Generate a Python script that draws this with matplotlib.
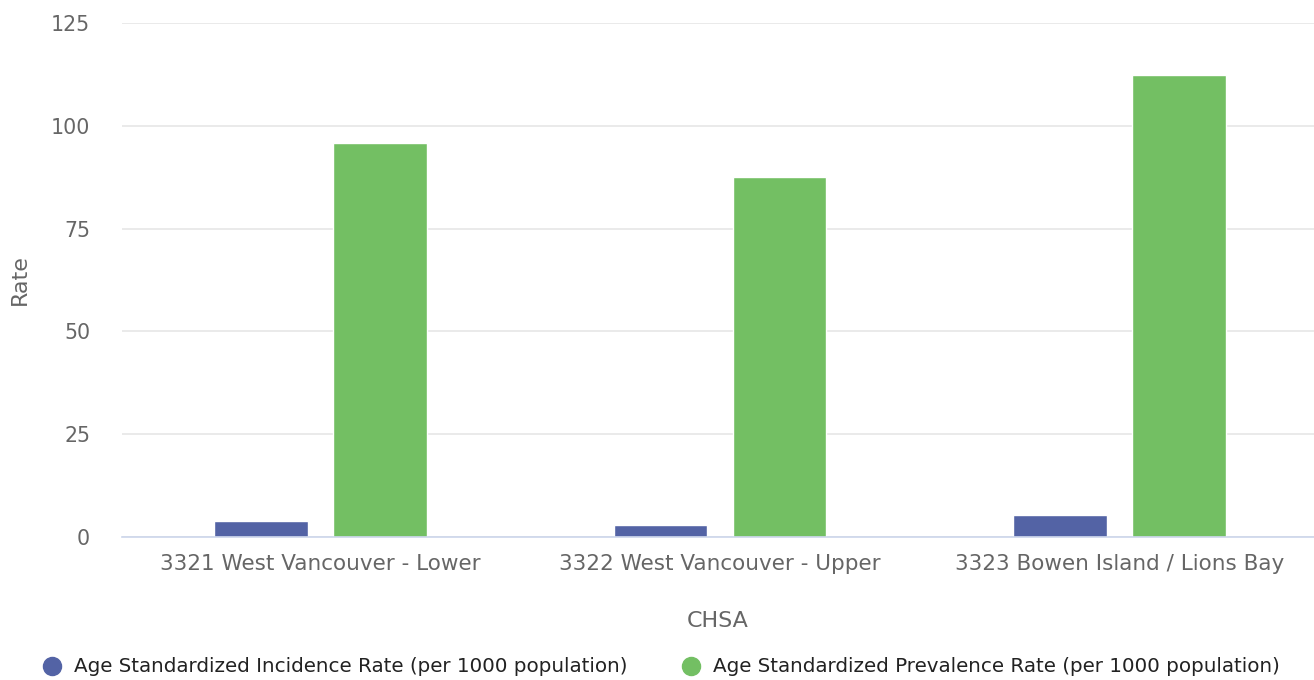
import numpy as np
import matplotlib.pyplot as plt
from matplotlib.lines import Line2D

# values
chsa = ["3321 West Vancouver - Lower", "3322 West Vancouver - Upper", "3323 Bowen Island / Lions Bay"]
incidence = [3.9, 3.0, 5.3]
prevalence = [95.8, 87.5, 112.4]
series_names = ["Age Standardized Incidence Rate (per 1000 population)",
                "Age Standardized Prevalence Rate (per 1000 population)"]
yticks = [0, 25, 50, 75, 100, 125]

blue = "#5363a5"
green = "#73bf63"

plt.rcParams['font.family'] = ['DejaVu Sans']

fig = plt.figure(figsize=(13.14, 6.8), dpi=100)
ax = fig.add_axes([122 / 1314, (680 - 537) / 680, 1 - 122 / 1314, (537 - 23) / 680])

x = np.arange(len(chsa))
w = 0.235
ax.bar(x - 0.149, incidence, w, color=blue, edgecolor="white", linewidth=1, zorder=3)
ax.bar(x + 0.149, prevalence, w, color=green, edgecolor="white", linewidth=1, zorder=3)

ax.set_xlim(-0.497, 2.487)
ax.set_ylim(0, 125)
ax.set_yticks(yticks)
ax.set_xticks(x)
ax.set_xticklabels(chsa, fontsize=15.5)
ax.tick_params(axis="both", length=0, colors="#666666")
ax.tick_params(axis="y", labelsize=14.8, pad=23)
ax.tick_params(axis="x", pad=12)

ax.grid(axis="y", color="#e6e6e6", linewidth=1.2, zorder=0)
for s in ["top", "right", "left"]:
    ax.spines[s].set_visible(False)
ax.spines["bottom"].set_color("#ccd6eb")
ax.spines["bottom"].set_linewidth(1.2)
ax.spines["bottom"].set_zorder(4)

ax.set_ylabel("Rate", fontsize=16, color="#666666", labelpad=15)
ax.set_xlabel("CHSA", fontsize=16, color="#666666", labelpad=27)

handles = [Line2D([], [], marker="o", linestyle="none", markersize=13, color=c) for c in (blue, green)]
fig.legend(handles, series_names, loc="center", bbox_to_anchor=(0.503, (680 - 667) / 680),
           ncol=2, frameon=False, fontsize=14.3, handlelength=1.0, handletextpad=0.6,
           columnspacing=2.7, labelcolor="#222222")

fig.savefig("out.png", dpi=100)
